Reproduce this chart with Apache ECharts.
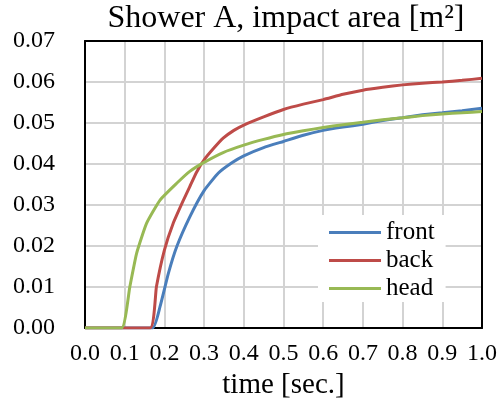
<!DOCTYPE html>
<html>
<head>
<meta charset="utf-8">
<script src="https://cdn.jsdelivr.net/npm/echarts@6/dist/echarts.min.js"></script>
<style>html,body{margin:0;padding:0;background:#fff}#c{width:500px;height:404px}</style>
</head>
<body>
<div id="c"></div>
<script>
var titleText = 'Shower A, impact area [m²]';
var xName = 'time [sec.]';
var seriesNames = ['front', 'back', 'head'];
var yTicks = [0, 0.01, 0.02, 0.03, 0.04, 0.05, 0.06, 0.07];
var xTicks = [0, 0.1, 0.2, 0.3, 0.4, 0.5, 0.6, 0.7, 0.8, 0.9, 1.0];

var frontT = [0, 0.17, 0.189, 0.21, 0.231, 0.264, 0.3, 0.336, 0.37, 0.4, 0.45, 0.5, 0.55, 0.6, 0.65, 0.7, 0.75, 0.8, 0.85, 0.9, 0.95, 1.0];
var frontV = [0, 0, 0.0052, 0.0133, 0.0198, 0.0271, 0.0335, 0.0378, 0.0403, 0.042, 0.044, 0.0455, 0.047, 0.0482, 0.049, 0.0497, 0.0506, 0.0513, 0.052, 0.0525, 0.053, 0.0536];

var backT = [0, 0.164, 0.18, 0.2, 0.222, 0.248, 0.264, 0.281, 0.3, 0.323, 0.348, 0.375, 0.4, 0.45, 0.5, 0.55, 0.6, 0.65, 0.7, 0.75, 0.8, 0.85, 0.9, 0.95, 1.0];
var backV = [0, 0, 0.0101, 0.019, 0.0255, 0.0312, 0.0345, 0.038, 0.041, 0.0437, 0.0463, 0.0482, 0.0495, 0.0515, 0.0533, 0.0546, 0.0557, 0.057, 0.058, 0.0587, 0.0593, 0.0597, 0.06, 0.0604, 0.0609];

var headT = [0, 0.092, 0.113, 0.13, 0.155, 0.189, 0.231, 0.264, 0.3, 0.348, 0.4, 0.45, 0.5, 0.55, 0.6, 0.65, 0.7, 0.75, 0.8, 0.85, 0.9, 0.95, 1.0];
var headV = [0, 0, 0.0101, 0.0182, 0.0255, 0.0312, 0.0353, 0.0382, 0.0404, 0.0428, 0.0446, 0.046, 0.0472, 0.0481, 0.0489, 0.0496, 0.0502, 0.0508, 0.0513, 0.0518, 0.0522, 0.0525, 0.0528];

var colors = ['#4A7EBB', '#BE4B48', '#98B954'];
var FONT = '"Liberation Serif", "Times New Roman", serif';

function pairs(t, v) { return t.map(function (x, i) { return [x, v[i]]; }); }
var dataSets = [pairs(frontT, frontV), pairs(backT, backV), pairs(headT, headV)];

var frameLine = { show: true, onZero: false, lineStyle: { color: '#000', width: 2 } };

var chart = echarts.init(document.getElementById('c'), null, { renderer: 'canvas' });
chart.setOption({
  animation: false,
  backgroundColor: '#fff',
  title: {
    text: titleText, left: 281, top: -2, textAlign: 'center',
    textStyle: { fontFamily: FONT, fontSize: 32, fontWeight: 'normal', color: '#000' }
  },
  grid: { left: 85, right: 18, top: 41, bottom: 76, containLabel: false, outerBoundsMode: 'none' },
  legend: {
    orient: 'vertical', left: 318, top: 215,
    padding: [5, 11, 1, 11], itemGap: 3,
    backgroundColor: '#fff',
    itemWidth: 52, itemHeight: 3, icon: 'rect',
    textStyle: { fontFamily: FONT, fontSize: 25, color: '#000', lineHeight: 24 },
    data: seriesNames
  },
  xAxis: [{
    type: 'value', min: xTicks[0], max: xTicks[xTicks.length - 1], interval: 0.1,
    name: xName, nameLocation: 'middle', nameGap: 42,
    nameTextStyle: { fontFamily: FONT, fontSize: 29, color: '#000' },
    axisLine: frameLine,
    axisTick: { show: false },
    axisLabel: { fontFamily: FONT, fontSize: 24, color: '#000', margin: 14, formatter: function (v) { return v.toFixed(1); } },
    splitLine: { show: true, lineStyle: { color: '#d3d3d3', width: 2 } }
  }, {
    type: 'value', position: 'top', min: 0, max: 1, interval: 0.1,
    axisLine: frameLine, axisTick: { show: false }, axisLabel: { show: false }, splitLine: { show: false }
  }],
  yAxis: [{
    type: 'value', min: yTicks[0], max: yTicks[yTicks.length - 1], interval: 0.01,
    axisLine: frameLine,
    axisTick: { show: false },
    axisLabel: { fontFamily: FONT, fontSize: 24, color: '#000', margin: 30, formatter: function (v) { return v.toFixed(2); } },
    splitLine: { show: true, lineStyle: { color: '#d3d3d3', width: 2 } }
  }, {
    type: 'value', position: 'right', min: 0, max: 0.07, interval: 0.01,
    axisLine: frameLine, axisTick: { show: false }, axisLabel: { show: false }, splitLine: { show: false }
  }],
  series: seriesNames.map(function (n, i) {
    return {
      name: n, type: 'line', data: dataSets[i], showSymbol: false, symbol: 'none',
      smooth: 0.15,
      color: colors[i], lineStyle: { width: 3, color: colors[i] }, z: 2 + i
    };
  })
});
</script>
</body>
</html>
